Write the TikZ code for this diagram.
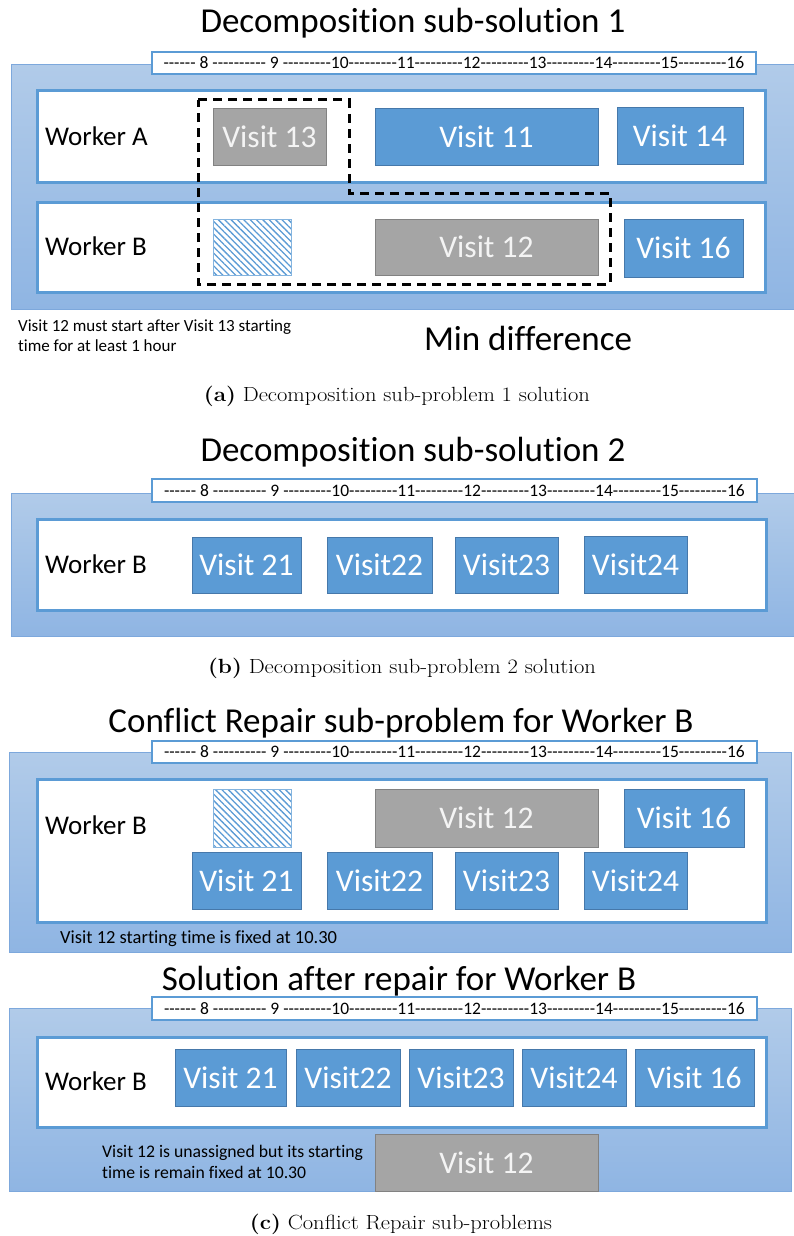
\documentclass[tikz,border=0pt]{standalone}
\usepackage{fontspec}
\newfontfamily\calfont[Ligatures=NoCommon]{Carlito}
\usetikzlibrary{patterns.meta}

\definecolor{officeblue}{RGB}{91,155,213}
\definecolor{visitedge}{RGB}{70,120,170}
\definecolor{greyfill}{RGB}{165,165,165}
\definecolor{greyedge}{RGB}{130,130,130}
\definecolor{greytext}{RGB}{244,244,244}
\definecolor{paneltop}{RGB}{177,203,233}
\definecolor{panelbot}{RGB}{143,181,227}
\definecolor{paneledge}{RGB}{125,168,220}

\tikzset{
  panel/.style={rectangle, draw=paneledge, line width=1pt, top color=paneltop, bottom color=panelbot, inner sep=0pt},
  ruler/.style={rectangle, draw=officeblue, line width=1.5pt, fill=white, inner sep=0pt,
    font=\calfont\fontsize{17.5}{20}\selectfont},
  row/.style={rectangle, draw=officeblue, line width=3pt, fill=white, inner sep=0pt},
  visit/.style={rectangle, fill=officeblue, draw=visitedge, line width=0.8pt, text=white, inner sep=0pt,
    font=\calfont\fontsize{31.5}{36}\selectfont},
  greyvisit/.style={visit, fill=greyfill, draw=greyedge, text=greytext},
  hatchbox/.style={rectangle, draw=officeblue!75, line width=0.8pt, inner sep=0pt,
    pattern={Lines[angle=-45,distance=4.5pt,line width=1.3pt]}, pattern color=officeblue},
  worker/.style={anchor=base west, inner sep=0pt, font=\calfont\fontsize{27}{30}\selectfont},
  title/.style={anchor=base, inner sep=0pt, font=\calfont\fontsize{35}{40}\selectfont},
  note/.style={anchor=base west, inner sep=0pt, font=\calfont\fontsize{17}{20}\selectfont},
  caption/.style={anchor=base, inner sep=0pt, font=\fontsize{20.5}{24}\selectfont},
  dashbox/.style={draw=black, line width=3pt, dash pattern=on 9pt off 6pt},
}

% rectangle node given by its corners: name, style, x1, y1, x2, y2, text
\newcommand\rectnode[7]{%
  \node[#2, minimum width={(#5)-(#3)}, minimum height={(#6)-(#4)}]
    (#1) at ({((#3)+(#5))/2},{((#4)+(#6))/2}) {#7};}

\newcommand\rulertext{------ 8 ---------- 9 ---------10---------11---------12---------13---------14---------15---------16}
% sub-figure caption, set a little wider than the plain font
\newcommand\subcap[2]{\scalebox{1.1}[1]{\textbf{(#1)} #2}}

\begin{document}
\begin{tikzpicture}[x=1pt, y=-1pt]
\useasboundingbox[fill=white] (0,0) rectangle (794,1236);

% ---------------- sub-solution 1
\node[title] (titleA) at (413,33) {Decomposition sub-solution 1};
\rectnode{panelA}{panel}{11}{65}{797}{309}{}
\rectnode{rulerA}{ruler}{152}{52}{756}{74}{\rulertext}
\rectnode{rowAa}{row}{37}{91}{765}{182}{}
\rectnode{rowAb}{row}{37}{202}{765}{292}{}
\node[worker] (wA) at (45,146) {Worker A};
\node[worker] (wB1) at (45,255) {Worker B};
\rectnode{v13}{greyvisit}{213}{108}{326}{165}{Visit 13}
\rectnode{v11}{visit}{375}{108}{598}{165}{Visit 11}
\rectnode{v14}{visit}{617}{107}{743}{164}{Visit 14}
\rectnode{hatchA}{hatchbox}{213}{219}{291}{275}{}
\rectnode{v12a}{greyvisit}{375}{219}{598}{275}{Visit 12}
\rectnode{v16a}{visit}{624}{219}{743}{277}{Visit 16}
\draw[dashbox] (198,100) -- (349,100) -- (349,193) -- (610,193) -- (610,284) -- (198,284) -- cycle;
\node[note] (noteA1) at (18,331) {Visit 12 must start after Visit 13 starting};
\node[note] (noteA2) at (18,351) {time for at least 1 hour};
\node[title] (mindiff) at (528,350) {Min difference};
\node[caption] (capA) at (397,401) {\subcap{a}{Decomposition sub-problem 1 solution}};

% ---------------- sub-solution 2
\node[title] (titleB) at (413,461) {Decomposition sub-solution 2};
\rectnode{panelB}{panel}{11}{493}{797}{636}{}
\rectnode{rulerB}{ruler}{152}{479}{757}{502}{\rulertext}
\rectnode{rowB}{row}{37}{519}{766}{610}{}
\node[worker] (wB2) at (45,573) {Worker B};
\rectnode{v21b}{visit}{192}{537}{301}{593}{Visit 21}
\rectnode{v22b}{visit}{327}{537}{432}{593}{Visit22}
\rectnode{v23b}{visit}{455}{537}{558}{593}{Visit23}
\rectnode{v24b}{visit}{584}{536}{687}{593}{Visit24}
\node[caption] (capB) at (402,673) {\subcap{b}{Decomposition sub-problem 2 solution}};

% ---------------- conflict repair sub-problem
\node[title] (titleC) at (401,732) {Conflict Repair sub-problem for Worker B};
\rectnode{panelC}{panel}{9}{752}{791}{952}{}
\rectnode{rulerC}{ruler}{152}{741}{757}{763}{\rulertext}
\rectnode{rowC}{row}{37}{779}{766}{922}{}
\node[worker] (wB3) at (45,834) {Worker B};
\rectnode{hatchC}{hatchbox}{213}{789}{291}{847}{}
\rectnode{v12c}{greyvisit}{375}{789}{598}{847}{Visit 12}
\rectnode{v16c}{visit}{624}{789}{744}{847}{Visit 16}
\rectnode{v21c}{visit}{192}{852}{301}{909}{Visit 21}
\rectnode{v22c}{visit}{327}{852}{432}{909}{Visit22}
\rectnode{v23c}{visit}{455}{852}{558}{909}{Visit23}
\rectnode{v24c}{visit}{584}{852}{687}{909}{Visit24}
\node[note, font=\calfont\fontsize{18.5}{22}\selectfont] (noteC) at (60,943) {Visit 12 starting time is fixed at 10.30};

% ---------------- solution after repair
\node[title] (titleD) at (399,990) {Solution after repair for Worker B};
\rectnode{panelD}{panel}{9}{1008}{791}{1191}{}
\rectnode{rulerD}{ruler}{152}{997}{757}{1020}{\rulertext}
\rectnode{rowD}{row}{37}{1037}{766}{1127}{}
\node[worker] (wB4) at (45,1090) {Worker B};
\rectnode{v21d}{visit}{175}{1049}{286}{1106}{Visit 21}
\rectnode{v22d}{visit}{296}{1049}{400}{1106}{Visit22}
\rectnode{v23d}{visit}{409}{1049}{513}{1106}{Visit23}
\rectnode{v24d}{visit}{522}{1049}{626}{1106}{Visit24}
\rectnode{v16d}{visit}{635}{1049}{754}{1106}{Visit 16}
\rectnode{v12d}{greyvisit}{375}{1134}{598}{1191}{Visit 12}
\node[note, font=\calfont\fontsize{17.7}{21}\selectfont] (noteD1) at (102,1157) {Visit 12 is unassigned but its starting};
\node[note, font=\calfont\fontsize{17.7}{21}\selectfont] (noteD2) at (102,1178) {time is remain fixed at 10.30};
\node[caption] (capC) at (401,1229) {\subcap{c}{Conflict Repair sub-problems}};
\end{tikzpicture}
\end{document}
